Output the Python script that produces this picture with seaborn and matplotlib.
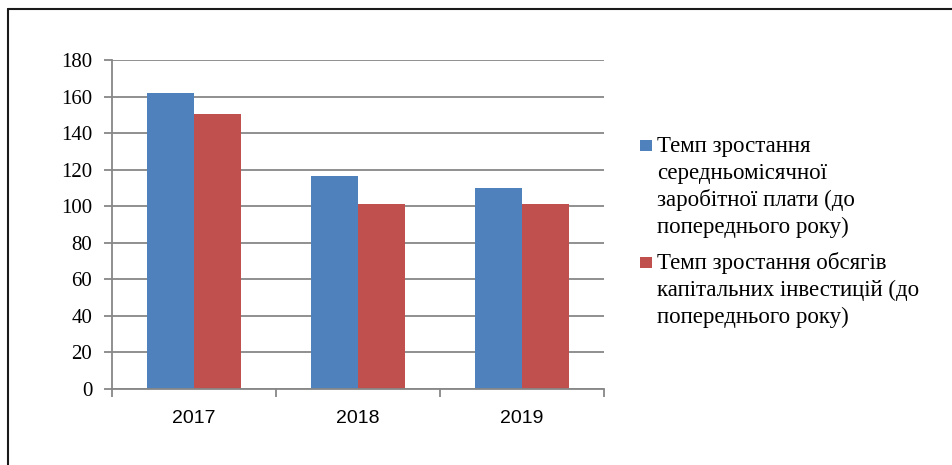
import matplotlib
matplotlib.use("Agg")
import matplotlib.pyplot as plt
from matplotlib.lines import Line2D
from matplotlib.patches import Rectangle
import seaborn as sns
import pandas as pd

years = ["2017", "2018", "2019"]
series_names = [
    "Темп зростання\nсередньомісячної\nзаробітної плати (до\nпопереднього року)",
    "Темп зростання обсягів\nкапітальних інвестицій (до\nпопереднього року)",
]
wages = [161.7, 116.3, 110.0]
investments = [150.7, 101.2, 101.2]
colors = ["#4F81BD", "#C0504D"]
yticks = [0, 20, 40, 60, 80, 100, 120, 140, 160, 180]

df = pd.DataFrame({
    "year": years * 2,
    "series": [series_names[0]] * 3 + [series_names[1]] * 3,
    "value": wages + investments,
})

sns.set_theme(style="white")
W, H = 952, 465
fig = plt.figure(figsize=(W / 100, H / 100), dpi=100)
ax = fig.add_axes([111.7 / W, 1 - 389 / H, (603.7 - 111.7) / W, (389 - 60) / H])

sns.barplot(data=df, x="year", y="value", hue="series", palette=colors,
            width=0.573, dodge=True, ax=ax, legend=False, linewidth=0,
            saturation=1, errorbar=None)

ax.set_xlim(-0.5, 2.5)
ax.set_ylim(0, 180)
ax.set_yticks(yticks)
ax.set_yticklabels([str(v) for v in yticks], fontfamily="Liberation Serif", fontsize=15, color="black")
ax.set_xlabel("")
ax.set_ylabel("")
ax.yaxis.grid(True, color="#878787", linewidth=1.3)
ax.set_axisbelow(True)
for s in ["top", "right"]:
    ax.spines[s].set_visible(False)
for s in ["left", "bottom"]:
    ax.spines[s].set_color("#878787")
    ax.spines[s].set_linewidth(1.3)
ax.tick_params(axis="y", which="major", direction="out", length=6, width=1.3, color="#878787", pad=8, left=True)
ax.set_xticks(range(len(years)))
ax.set_xticklabels(years, fontfamily="Liberation Sans", fontsize=14, color="black")
ax.tick_params(axis="x", which="major", length=0, pad=15)
ax.set_xticks([-0.5, 0.5, 1.5, 2.5], minor=True)
ax.tick_params(axis="x", which="minor", direction="out", length=6, width=1.3, color="#878787", bottom=True)

# legend, drawn line by line so the square sits beside the first line
first_baselines = [152.0, 269.0]
line_step = 27.0
for name, color, b0 in zip(series_names, colors, first_baselines):
    fig.add_artist(Rectangle((640 / W, 1 - (b0 - 1) / H), 12 / W, 11 / H,
                             transform=fig.transFigure, facecolor=color, edgecolor="none"))
    for i, line in enumerate(name.split("\n")):
        fig.text(657 / W, 1 - (b0 + i * line_step) / H, line, ha="left", va="baseline",
                 fontfamily="Liberation Serif", fontsize=16.5, color="black")

fig.add_artist(Line2D([8 / W, 1], [1 - 9 / H, 1 - 9 / H], transform=fig.transFigure, color="#1a1a1a", linewidth=1.5))
fig.add_artist(Line2D([8 / W, 8 / W], [0, 1 - 9 / H], transform=fig.transFigure, color="#1a1a1a", linewidth=1.5))

fig.savefig("out.png", dpi=100, facecolor="white")
